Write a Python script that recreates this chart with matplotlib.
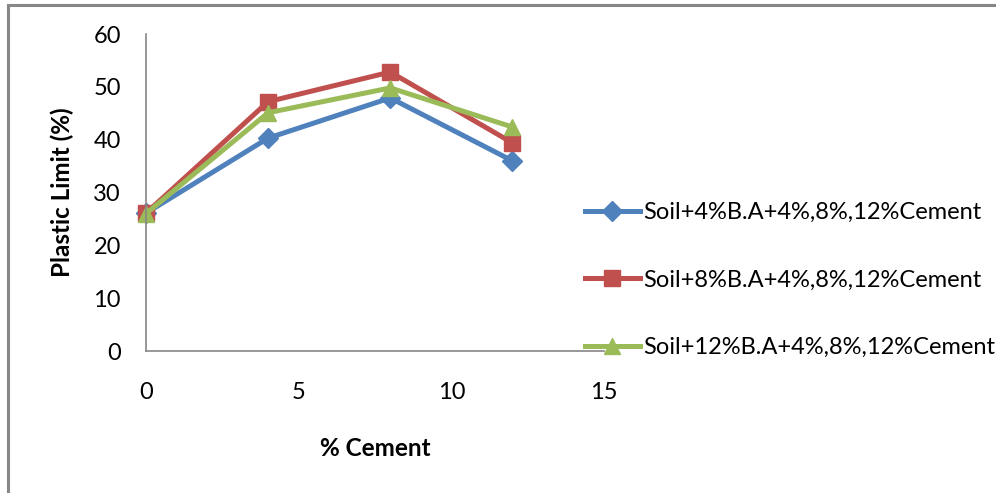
import matplotlib
matplotlib.use("Agg")
import matplotlib.pyplot as plt
from matplotlib.lines import Line2D

plt.rcParams['font.family'] = ['Lato', 'DejaVu Sans']

cement = [0, 4, 8, 12]
ba4 = [26.1, 40.3, 47.9, 36.0]
ba8 = [26.1, 47.2, 52.8, 39.4]
ba12 = [26.0, 45.1, 49.8, 42.4]
labels = ['Soil+4%B.A+4%,8%,12%Cement',
          'Soil+8%B.A+4%,8%,12%Cement',
          'Soil+12%B.A+4%,8%,12%Cement']
xticks = [0, 5, 10, 15]
yticks = [0, 10, 20, 30, 40, 50, 60]


def main():
    fig = plt.figure(figsize=(9.96, 4.93), dpi=100)
    ax = fig.add_axes([0.1466, 0.288, 0.4598, 0.643])

    ax.plot(cement, ba4, color='#4F81BD', lw=3.6, marker='D', ms=10, label=labels[0])
    ax.plot(cement, ba8, color='#C0504D', lw=3.6, marker='s', ms=11, label=labels[1])
    ax.plot(cement, ba12, color='#9BBB59', lw=3.6, marker='^', ms=12, label=labels[2])

    ax.set_xlim(0, 15)
    ax.set_ylim(0, 60)
    ax.set_xticks(xticks)
    ax.set_yticks(yticks)
    ax.tick_params(length=0, labelsize=17)
    ax.tick_params(axis='y', pad=18)
    ax.tick_params(axis='x', pad=22)
    for side in ['top', 'right']:
        ax.spines[side].set_visible(False)
    for side in ['left', 'bottom']:
        ax.spines[side].set_color('#868686')
        ax.spines[side].set_linewidth(1.2)
    for m in ax.get_lines():
        m.set_clip_on(False)

    ax.set_xlabel('% Cement', fontsize=17.5, fontweight='bold', labelpad=25)
    ax.set_ylabel('Plastic Limit (%)', fontsize=17.5, fontweight='bold', labelpad=14)

    ax.legend(loc='center left', bbox_to_anchor=(0.587, 0.432),
              bbox_transform=fig.transFigure, frameon=False, fontsize=17,
              handlelength=2.33, handletextpad=0.17, labelspacing=1.98,
              borderpad=0, borderaxespad=0)

    # outer chart border (only top and left visible in the crop)
    fig.add_artist(Line2D([0.008, 1.0], [0.99, 0.99], color='#878787', lw=2.2,
                          transform=fig.transFigure))
    fig.add_artist(Line2D([0.008, 0.008], [0.0, 0.99], color='#878787', lw=2.2,
                          transform=fig.transFigure))

    fig.savefig('out.png', dpi=100)


if __name__ == "__main__":
    main()
